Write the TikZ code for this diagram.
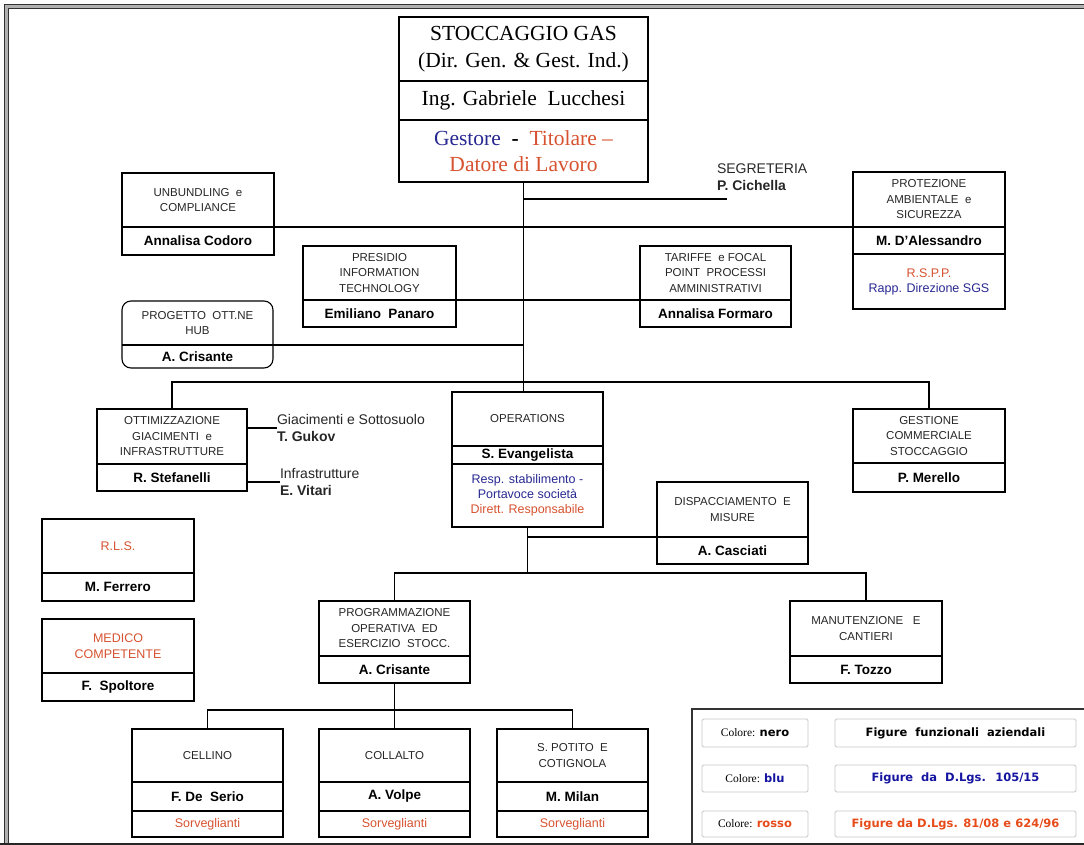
\documentclass[tikz,border=0pt]{standalone}
\usepackage{fontspec}
\setmainfont{Liberation Sans}
\newfontfamily\timesfont{Liberation Serif}
\newfontfamily\comicfont{DejaVu Sans}
\usetikzlibrary{positioning}
\definecolor{orgblue}{RGB}{40,40,145}
\definecolor{orgred}{RGB}{214,82,48}
\definecolor{legblue}{RGB}{20,20,160}
\definecolor{legred}{RGB}{230,75,25}

\begin{document}
\begin{tikzpicture}[x=1pt, y=-1pt, outer sep=0pt, inner sep=0pt,
  headbox/.style = {draw, line width=1.1, minimum width=151, minimum height=54, align=center, text=black!85, font=\fontsize{11.5}{15.5}\selectfont},
  namebox/.style = {draw, line width=1.1, minimum width=151, minimum height=27, font=\bfseries\fontsize{13.5}{15}\selectfont},
  notebox/.style = {draw, line width=1.1, minimum width=151, align=center, font=\fontsize{12.5}{15}\selectfont},
  sidetext/.style = {anchor=west, align=left, text=black!85, font=\fontsize{14}{16.5}\selectfont},
  wire/.style = {line width=1.1},
  legbox/.style = {draw=gray!45, line width=0.8, rounded corners=1.5, anchor=north west, font=\fontsize{11.5}{12}\selectfont}]

    \useasboundingbox (0,0) rectangle (1084,845);

    % frame
    \draw[line width=3, gray!60] (1090,6.5) -| (6.5,843);
    \draw[line width=0.9, black!80] (1090,4.5) -| (4.5,843);
    \draw[line width=0.9, black!80] (1090,8.5) -| (8.5,843);
    \draw[line width=2, black!85] (0,843.5) -- (1090,843.5);

    % direzione
    \node[headbox, anchor=north west, minimum width=249, minimum height=64, text=black, font=\timesfont\fontsize{21.5}{27}\selectfont] (dirT) at (399,17) {STOCCAGGIO GAS\\(Dir. Gen. \& Gest. Ind.)};
    \node[namebox, below=0pt of dirT, minimum width=249, minimum height=39, font=\timesfont\fontsize{21.5}{26}\selectfont] (dirN) {Ing. Gabriele \ Lucchesi};
    \node[notebox, below=0pt of dirN, minimum width=249, minimum height=62, font=\timesfont\fontsize{21.5}{26}\selectfont] (dirR) {\textcolor{orgblue}{Gestore} \ \textbf{-} \ \textcolor{orgred}{Titolare –}\\\textcolor{orgred}{Datore di Lavoro}};

    % staff
    \node[headbox, anchor=north west, minimum width=152] (unbT) at (122,173) {UNBUNDLING \ e\\COMPLIANCE};
    \node[namebox, below=0pt of unbT, minimum width=152, minimum height=28] (unbN) {Annalisa Codoro};

    \node[headbox, anchor=north west, minimum width=153] (pitT) at (303,246) {PRESIDIO\\INFORMATION\\TECHNOLOGY};
    \node[namebox, below=0pt of pitT, minimum width=153] (pitN) {Emiliano \ Panaro};

    \node[headbox, anchor=north west] (tarT) at (640,246) {TARIFFE \ e FOCAL\\POINT \ PROCESSI\\AMMINISTRATIVI};
    \node[namebox, below=0pt of tarT] (tarN) {Annalisa Formaro};

    \node[headbox, anchor=north west, minimum width=152, minimum height=55] (protT) at (853,172) {PROTEZIONE\\AMBIENTALE \ e\\SICUREZZA};
    \node[namebox, below=0pt of protT, minimum width=152] (protN) {M. D'Alessandro};
    \node[notebox, below=0pt of protN, minimum width=152, minimum height=55] (protR) {\textcolor{orgred}{R.S.P.P.}\\\textcolor{orgblue}{Rapp. Direzione SGS}};

    \node[headbox, draw=none, anchor=north west, minimum height=44] (hubT) at (122,301) {PROGETTO \ OTT.NE\\HUB};
    \node[namebox, draw=none, below=0pt of hubT, minimum height=23] (hubN) {A. Crisante};
    \draw[wire, rounded corners=9] (hubT.north west) rectangle (hubN.south east);
    \draw[wire] (hubT.south west) -- (hubT.south east);

    \node[sidetext] (seg) at (717,177) {SEGRETERIA\\\textbf{P. Cichella}};

    % second level
    \node[headbox, anchor=north west, minimum width=150, minimum height=55] (ottT) at (97,409) {OTTIMIZZAZIONE\\GIACIMENTI \ e\\INFRASTRUTTURE};
    \node[namebox, below=0pt of ottT, minimum width=150] (ottN) {R. Stefanelli};
    \node[sidetext] (gia) at (277,428) {Giacimenti e Sottosuolo\\\textbf{T. Gukov}};
    \node[sidetext] (inf) at (280,482) {Infrastrutture\\\textbf{E. Vitari}};

    \node[headbox, anchor=north west] (opsT) at (452,392) {OPERATIONS};
    \node[namebox, below=0pt of opsT, minimum height=18] (opsN) {S. Evangelista};
    \node[notebox, below=0pt of opsN, minimum height=63] (opsR) {\textcolor{orgblue}{Resp. stabilimento -}\\\textcolor{orgblue}{Portavoce società}\\\textcolor{orgred}{Dirett. Responsabile}};

    \node[headbox, anchor=north west, minimum width=152] (gestT) at (853,409) {GESTIONE\\COMMERCIALE\\STOCCAGGIO};
    \node[namebox, below=0pt of gestT, minimum width=152, minimum height=29] (gestN) {P. Merello};

    \node[headbox, anchor=north west, minimum height=55] (dispT) at (657,482) {DISPACCIAMENTO \ E\\MISURE};
    \node[namebox, below=0pt of dispT] (dispN) {A. Casciati};

    % sicurezza
    \node[headbox, anchor=north west, minimum width=152, text=orgred, font=\fontsize{12.5}{16}\selectfont] (rlsT) at (42,519) {R.L.S.};
    \node[namebox, below=0pt of rlsT, minimum width=152, minimum height=28] (rlsN) {M. Ferrero};
    \node[headbox, anchor=north west, minimum width=152, text=orgred, font=\fontsize{12.5}{16}\selectfont] (medT) at (42,619) {MEDICO\\COMPETENTE};
    \node[namebox, below=0pt of medT, minimum width=152, minimum height=28] (medN) {F. \ Spoltore};

    % third level
    \node[headbox, anchor=north west, minimum height=55] (progT) at (319,601) {PROGRAMMAZIONE\\OPERATIVA \ ED\\ESERCIZIO \ STOCC.};
    \node[namebox, below=0pt of progT] (progN) {A. Crisante};
    \node[headbox, anchor=north west, minimum width=152, minimum height=55] (manT) at (790,601) {MANUTENZIONE \ \ E\\CANTIERI};
    \node[namebox, below=0pt of manT, minimum width=152] (manN) {F. Tozzo};

    % sites
    \foreach \id/\x/\place/\boss in {cel/132/CELLINO/F. De \ Serio, col/319/COLLALTO/A. Volpe, pot/497/{S. POTITO \ E\\COTIGNOLA}/M. Milan} {
        \node[headbox, anchor=north west, minimum height=53] (\id T) at (\x,729) {\place};
        \node[namebox, below=0pt of \id T, minimum height=29] (\id N) {\boss};
        \node[notebox, below=0pt of \id N, minimum height=26, text=orgred] (\id R) {Sorveglianti};
    }

    % connectors
    \coordinate (bus) at (523.5,382);
    \coordinate (segE) at (727,199);
    \coordinate (bus2) at (527.5,573);
    \coordinate (bus3) at (394.5,710);
    \draw[wire] (dirR.south) -- (bus);
    \draw[wire] (dirR.south |- segE) -- (segE);
    \draw[wire] (unbN.north east) -- (protN.north west);
    \draw[wire] (pitN.north east) -- (tarN.north west);
    \draw[wire] (hubT.south east) -- (hubT.south east -| bus);
    \draw[wire] (ottT.north) |- (bus) -| (gestT.north);
    \draw[wire] (bus) -- (bus |- opsT.north);
    \draw[wire] (ottT.east |- gia.west) -- (gia.west);
    \draw[wire] (ottN.east |- inf.west) -- (inf.west);
    \draw[wire] (opsR.south) -- (bus2);
    \draw[wire] (bus2 |- dispN.north) -- (dispN.north west);
    \draw[wire] (progT.north) |- (bus2) -| (manT.north);
    \draw[wire] (progN.south) -- (colT.north);
    \draw[wire] (celT.north) |- (bus3) -| (potT.north);

    % legenda
    \draw[line width=1.3, black!80] (692,845) |- (1090,709);
    \node[legbox, minimum width=106, minimum height=28] (c1) at (702,719) {{\timesfont Colore:} {\comicfont\bfseries nero}};
    \node[legbox, minimum width=241, minimum height=28, font=\comicfont\bfseries\fontsize{11.5}{12}\selectfont] (f1) at (835,719) {Figure \ funzionali \ aziendali};
    \node[legbox, minimum width=106, minimum height=27] (c2) at (702,765) {{\timesfont Colore:} {\comicfont\bfseries\color{legblue}blu}};
    \node[legbox, minimum width=241, minimum height=27, text=legblue, font=\comicfont\bfseries\fontsize{11.5}{12}\selectfont] (f2) at (835,765) {Figure \ da \ D.Lgs. \ 105/15};
    \node[legbox, minimum width=106, minimum height=26] (c3) at (702,811) {{\timesfont Colore:} {\comicfont\bfseries\color{legred}rosso}};
    \node[legbox, minimum width=241, minimum height=26, text=legred, font=\comicfont\bfseries\fontsize{11.5}{12}\selectfont] (f3) at (835,811) {Figure da D.Lgs. 81/08 e 624/96};

\end{tikzpicture}
\end{document}
